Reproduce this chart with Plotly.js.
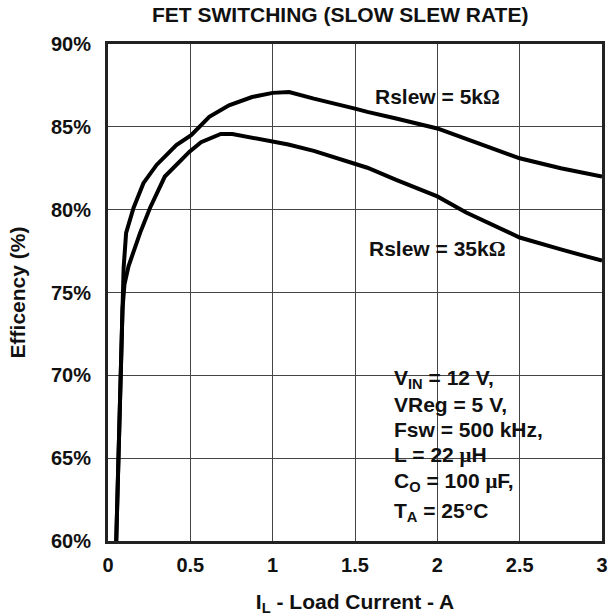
<!DOCTYPE html>
<html>
<head>
<meta charset="utf-8">
<script src="https://cdn.plot.ly/plotly-3.0.1.min.js"></script>
<style>html,body{margin:0;padding:0;background:#fff;}#chart{width:613px;height:616px;}</style>
</head>
<body>
<div id="chart"></div>
<script>
// Load current (A) and efficiency (%)
const currentSlew5k = [0.05, 0.065, 0.075, 0.088, 0.095, 0.11, 0.155, 0.215, 0.295, 0.415, 0.505, 0.615, 0.735, 0.875, 1.0, 1.1, 1.25, 1.5, 1.575, 1.75, 2.0, 2.25, 2.5, 2.75, 3.0];
const effSlew5k     = [60, 65, 70, 74, 76.5, 78.6, 80.1, 81.6, 82.7, 83.9, 84.5, 85.6, 86.3, 86.8, 87.05, 87.1, 86.7, 86.1, 85.9, 85.5, 84.9, 84.0, 83.1, 82.5, 82.0];
const currentSlew35k = [0.05, 0.065, 0.075, 0.088, 0.1, 0.125, 0.195, 0.255, 0.345, 0.435, 0.495, 0.565, 0.685, 0.755, 0.875, 0.985, 1.095, 1.25, 1.575, 1.75, 2.0, 2.175, 2.5, 2.75, 3.0];
const effSlew35k     = [60, 65, 70, 74, 75.5, 76.6, 78.6, 80.1, 82.0, 82.9, 83.5, 84.07, 84.57, 84.57, 84.33, 84.17, 83.93, 83.55, 82.53, 81.8, 80.8, 79.83, 78.32, 77.6, 76.92];
const xTickVals = [0, 0.5, 1, 1.5, 2, 2.5, 3];
const xTickText = ["0", "0.5", "1", "1.5", "2", "2.5", "3"];
const yTickVals = [60, 65, 70, 75, 80, 85, 90];
const yTickText = ["60%", "65%", "70%", "75%", "80%", "85%", "90%"];

const FONT = "Liberation Sans, Arial, sans-serif";
const SERIF = 'style="font-family:Liberation Serif, Times New Roman, serif"';

const traces = [
  {x: currentSlew5k, y: effSlew5k, mode: "lines", name: "Rslew = 5kΩ",
   line: {color: "#000", width: 4}, hoverinfo: "skip"},
  {x: currentSlew35k, y: effSlew35k, mode: "lines", name: "Rslew = 35kΩ",
   line: {color: "#000", width: 4}, hoverinfo: "skip"}
];

const ann = (text, x, y, xanchor) => ({
  text: text, x: x, y: y, xref: "x", yref: "y", showarrow: false,
  xanchor: xanchor || "center", yanchor: "middle",
  font: {family: FONT, size: 21, color: "#111", weight: "bold"}
});

const layout = {
  width: 613, height: 616,
  margin: {l: 108, r: 5, t: 44, b: 73},
  paper_bgcolor: "#fff", plot_bgcolor: "#fff",
  showlegend: false,
  font: {family: FONT, size: 20, color: "#111", weight: "bold"},
  title: {text: "FET SWITCHING (SLOW SLEW RATE)", x: 0.555, xanchor: "center",
          y: 1 - 15/616, yref: "container", yanchor: "middle",
          font: {family: FONT, size: 21, color: "#111", weight: "bold"}},
  xaxis: {range: [0, 3], tickvals: xTickVals, ticktext: xTickText, ticks: "",
          showgrid: true, gridcolor: "#444", gridwidth: 1, zeroline: false,
          showline: true, mirror: true, linecolor: "#222", linewidth: 3,
          ticklabelstandoff: 4,
          tickfont: {family: FONT, size: 20, color: "#111", weight: "bold"},
          title: {text: "I<sub>L</sub> - Load Current - A", standoff: 20,
                  font: {family: FONT, size: 21, color: "#111", weight: "bold"}},
          automargin: true, fixedrange: true},
  yaxis: {range: [60, 90], tickvals: yTickVals, ticktext: yTickText, ticks: "",
          showgrid: true, gridcolor: "#444", gridwidth: 1, zeroline: false,
          showline: true, mirror: true, linecolor: "#222", linewidth: 3,
          ticklabelstandoff: 10,
          tickfont: {family: FONT, size: 20, color: "#111", weight: "bold"},
          title: {text: "Efficency (%)", standoff: 20,
                  font: {family: FONT, size: 21, color: "#111", weight: "bold"}},
          automargin: true, fixedrange: true},
  shapes: [
    {type: "rect", xref: "x", yref: "y", x0: 1.6, x1: 2.42, y0: 85.7, y1: 87.6, layer: "below", fillcolor: "#fff", line: {width: 0}},
    {type: "rect", xref: "x", yref: "y", x0: 1.57, x1: 2.43, y0: 76.5, y1: 78.7, layer: "below", fillcolor: "#fff", line: {width: 0}},
    {type: "rect", xref: "x", yref: "y", x0: 1.67, x1: 2.71, y0: 60.8, y1: 71.05, layer: "below", fillcolor: "#fff", line: {width: 0}}
  ],
  annotations: [
    ann("Rslew = 5k<span " + SERIF + ">Ω</span>", 2.0, 86.8),
    ann("Rslew = 35k<span " + SERIF + ">Ω</span>", 2.0, 77.62),
    ann("V<sub>IN</sub> = 12 V,", 1.725, 69.8, "left"),
    ann("VReg = 5 V,", 1.725, 68.25, "left"),
    ann("Fsw = 500 kHz,", 1.725, 66.75, "left"),
    ann("L = 22 <span " + SERIF + ">μ</span>H", 1.725, 65.2, "left"),
    ann("C<sub>O</sub> = 100 <span " + SERIF + ">μ</span>F,", 1.725, 63.55, "left"),
    ann("T<sub>A</sub> = 25°C", 1.725, 61.75, "left")
  ]
};

Plotly.newPlot("chart", traces, layout, {staticPlot: true, displayModeBar: false});
</script>
</body>
</html>
